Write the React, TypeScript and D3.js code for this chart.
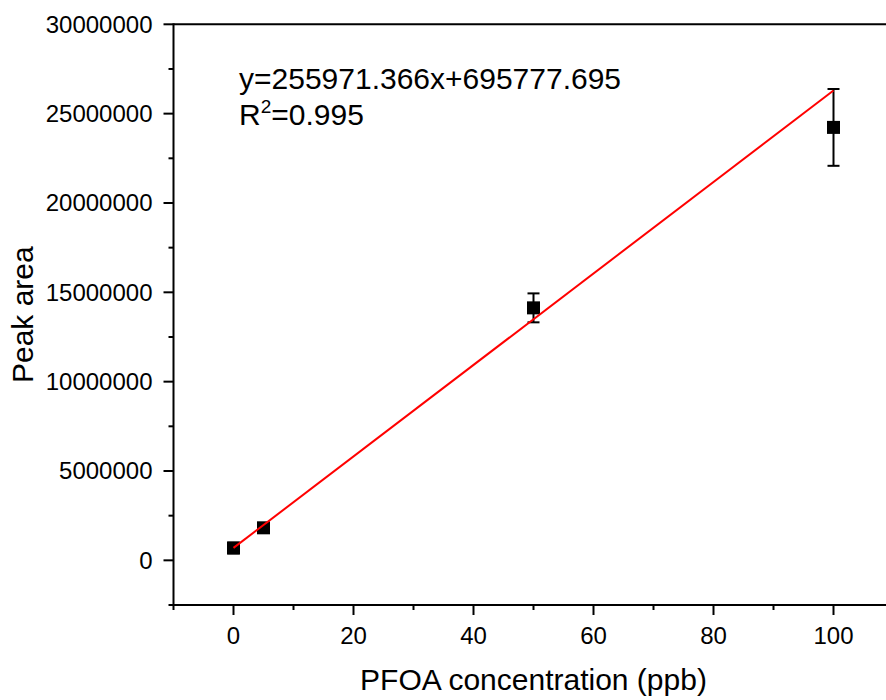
import React from "react";
import * as d3 from "d3";

const concentrations = [0, 5, 50, 100];
const peakAreas = [690000, 1820000, 14130000, 24230000];
const errors = [300000, 200000, 810000, 2150000];
const slope = 255971.366;
const intercept = 695777.695;
const xMajorTicks = [0, 20, 40, 60, 80, 100];
const xMinorTicks = [-10, 10, 30, 50, 70, 90, 110];
const yMajorTicks = [0, 5000000, 10000000, 15000000, 20000000, 25000000, 30000000];
const yMinorTicks = [-2500000, 2500000, 7500000, 12500000, 17500000, 22500000, 27500000];
const equationText = "y=255971.366x+695777.695";
const r2Value = "0.995";

const W = 886;
const H = 700;
const FONT = "'Liberation Sans', Arial, Helvetica, sans-serif";
const MS = 13;

export default function App() {
  const x = d3.scaleLinear().domain([-10, 110]).range([173.5, 893.5]);
  const y = d3.scaleLinear().domain([-2500000, 30000000]).range([605, 24.3]);
  const [x0, x1] = x.range();
  const [yb, yt] = y.range();

  const fitLine = d3
    .line<number>()
    .x((d) => x(d))
    .y((d) => y(slope * d + intercept));

  return (
    <svg
      width={W}
      height={H}
      style={{ position: "absolute", left: 0, top: 0, background: "#fff", overflow: "hidden" }}
      fontFamily={FONT}
    >
      <rect x={0} y={0} width={W} height={H} fill="#fff" />
      {/* frame */}
      <g stroke="#000" strokeWidth={2} fill="none">
        <line x1={x0} x2={x1} y1={yt} y2={yt} />
        <line x1={x1} x2={x1} y1={yt} y2={yb} />
        <line x1={x0} x2={x1 + 1} y1={yb} y2={yb} />
        <line x1={x0} x2={x0} y1={yt - 1} y2={yb + 1} />
      </g>
      {/* ticks */}
      <g stroke="#000" strokeWidth={2}>
        {xMajorTicks.map((t) => (
          <line key={"xm" + t} x1={x(t)} x2={x(t)} y1={yb} y2={yb + 10} />
        ))}
        {xMinorTicks.map((t) => (
          <line key={"xn" + t} x1={x(t)} x2={x(t)} y1={yb} y2={yb + 5} />
        ))}
        {yMajorTicks.map((t) => (
          <line key={"ym" + t} x1={x0 - 10} x2={x0} y1={y(t)} y2={y(t)} />
        ))}
        {yMinorTicks.map((t) => (
          <line key={"yn" + t} x1={x0 - 5} x2={x0} y1={y(t)} y2={y(t)} />
        ))}
      </g>
      {/* tick labels */}
      <g fontSize={24} fill="#000">
        {xMajorTicks.map((t) => (
          <text key={"xl" + t} x={x(t)} y={644} textAnchor="middle">
            {t}
          </text>
        ))}
        {yMajorTicks.map((t) => (
          <text key={"yl" + t} x={x0 - 21} y={y(t)} dy="0.35em" textAnchor="end">
            {String(t)}
          </text>
        ))}
      </g>
      {/* axis titles */}
      <text x={(x0 + x1) / 2} y={690} textAnchor="middle" fontSize={30} fill="#000">
        PFOA concentration (ppb)
      </text>
      <text
        transform={`translate(33, ${(yt + yb) / 2}) rotate(-90)`}
        textAnchor="middle"
        fontSize={30}
        fill="#000"
      >
        Peak area
      </text>
      {/* error bars */}
      <g stroke="#000" strokeWidth={2}>
        {concentrations.map((c, i) => (
          <g key={"e" + i}>
            <line x1={x(c)} x2={x(c)} y1={y(peakAreas[i] - errors[i])} y2={y(peakAreas[i] + errors[i])} />
            <line x1={x(c) - 6} x2={x(c) + 6} y1={y(peakAreas[i] - errors[i])} y2={y(peakAreas[i] - errors[i])} />
            <line x1={x(c) - 6} x2={x(c) + 6} y1={y(peakAreas[i] + errors[i])} y2={y(peakAreas[i] + errors[i])} />
          </g>
        ))}
      </g>
      {/* points */}
      <g fill="#000">
        {concentrations.map((c, i) => (
          <rect key={"p" + i} x={x(c) - MS / 2} y={y(peakAreas[i]) - MS / 2} width={MS} height={MS} />
        ))}
      </g>
      {/* fit line */}
      <path d={fitLine([0, 100]) || ""} stroke="#ff0000" strokeWidth={2} fill="none" />
      {/* equation */}
      <g fontSize={30} fill="#000">
        <text x={239} y={89}>
          {equationText}
        </text>
        <text x={239} y={125}>
          R
          <tspan dy={-12} fontSize={19}>
            2
          </tspan>
          <tspan dy={12}>={r2Value}</tspan>
        </text>
      </g>
    </svg>
  );
}
